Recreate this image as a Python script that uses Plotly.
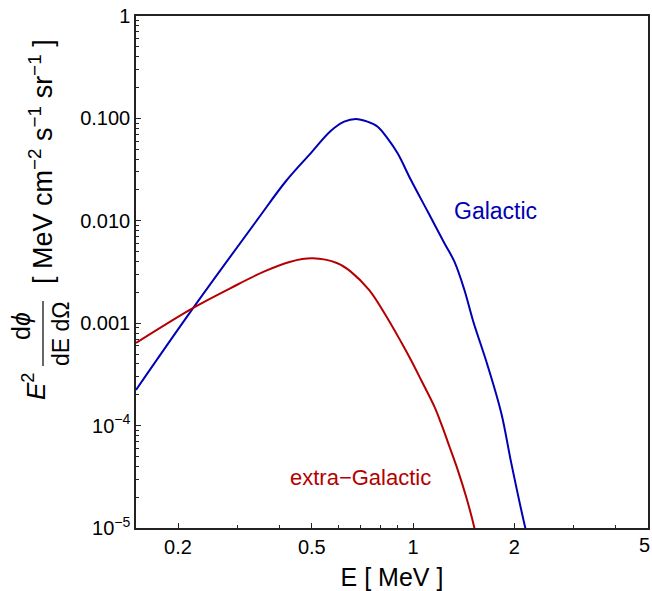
import plotly.graph_objects as go

# Galactic spectrum
gal_E = [0.150, 0.222, 0.344, 0.418, 0.496, 0.569, 0.624, 0.676, 0.732, 0.785, 0.840, 0.900,
         0.986, 1.106, 1.240, 1.328, 1.422, 1.507, 1.671, 1.831, 1.961, 2.160, 2.25]
gal_F = [2.23e-4, 1.41e-3, 1.02e-2, 2.42e-2, 4.56e-2, 7.53e-2, 9.29e-2, 9.87e-2, 9.29e-2, 8.30e-2, 6.39e-2, 4.56e-2,
         2.50e-2, 1.23e-2, 6.03e-3, 3.99e-3, 2.11e-3, 1.07e-3, 3.76e-4, 1.32e-4, 4.28e-5, 9.9e-6, 6e-6]

# extra-Galactic spectrum
xg_E = [0.150, 0.222, 0.286, 0.360, 0.432, 0.503, 0.596, 0.653, 0.740, 0.825,
        0.921, 0.986, 1.057, 1.158, 1.212, 1.284, 1.359, 1.439, 1.524, 1.57]
xg_F = [6.41e-4, 1.41e-3, 2.19e-3, 3.19e-3, 3.99e-3, 4.30e-3, 3.85e-3, 3.19e-3, 2.11e-3, 1.23e-3,
        6.59e-4, 4.37e-4, 2.79e-4, 1.53e-4, 1.05e-4, 6.22e-5, 3.68e-5, 2.02e-5, 9.9e-6, 6e-6]

x_ticks = [0.2, 0.5, 1, 2, 5]
x_ticklabels = ["0.2", "0.5", "1", "2", ""]
x_last_label = "5"
x_minor = [0.3, 0.4, 0.6, 0.7, 0.8, 0.9, 3, 4]
y_ticks = [1, 0.1, 0.01, 0.001, 1e-4, 1e-5]
y_ticklabels = ["1", "0.100", "0.010", "0.001", "10<sup>−4</sup>", "10<sup>−5</sup>"]
y_minor = [m * 10.0 ** d for d in range(-5, 0) for m in range(2, 10)]

BLUE = "#0000b4"
RED = "#b40000"
AX = "#222"
FONT = "Liberation Sans, Arial, sans-serif"

fig = go.Figure()
fig.add_trace(go.Scatter(x=gal_E, y=gal_F, mode="lines",
                         line=dict(color=BLUE, width=2, shape="spline", smoothing=1.0),
                         showlegend=False, hoverinfo="skip", cliponaxis=True))
fig.add_trace(go.Scatter(x=xg_E, y=xg_F, mode="lines",
                         line=dict(color=RED, width=2, shape="spline", smoothing=1.0),
                         showlegend=False, hoverinfo="skip", cliponaxis=True))

L, R, T, B = 136, 648, 16, 528          # plot area in pixels
W, H = 652, 591


def px(x):
    return (x - L) / (R - L)


def py(y):
    return (B - y) / (B - T)


fig.update_layout(
    width=W, height=H,
    margin=dict(l=L, r=W - R, t=T, b=H - B, pad=0),
    plot_bgcolor="white", paper_bgcolor="white",
    font=dict(family=FONT, size=20, color="black"),
    xaxis=dict(type="log", range=[-0.8239, 0.69897], tickvals=x_ticks, ticktext=x_ticklabels,
               ticks="inside", ticklen=5, tickwidth=1, tickcolor=AX, showgrid=False, zeroline=False,
               showline=True, linecolor=AX, linewidth=1.5, mirror=True, automargin=False,
               minor=dict(tickvals=x_minor, ticks="inside", ticklen=3, tickcolor=AX, showgrid=False),
               tickfont=dict(size=20), title=dict(text="E [ MeV ]", font=dict(size=25), standoff=12)),
    yaxis=dict(type="log", range=[-5, 0], tickvals=y_ticks, ticktext=y_ticklabels,
               ticks="inside", ticklen=5, tickwidth=1, tickcolor=AX, showgrid=False, zeroline=False,
               showline=True, linecolor=AX, linewidth=1.5, mirror=True, automargin=False,
               minor=dict(tickvals=y_minor, ticks="inside", ticklen=3, tickcolor=AX, showgrid=False),
               tickfont=dict(size=20)),
)

ann = [
    dict(text=x_last_label, x=px(644), y=py(545), font=dict(size=20)),
    dict(text="Galactic", x=px(495), y=py(211), font=dict(color=BLUE, size=23)),
    dict(text="extra−Galactic", x=px(360), y=py(477), font=dict(color=RED, size=22)),
    dict(text="<i>E</i><sup>2</sup>", x=px(34), y=py(387), textangle=-90, font=dict(size=26)),
    dict(text="d<i>ϕ</i>", x=px(21), y=py(326), textangle=-90, font=dict(size=25)),
    dict(text="dE dΩ", x=px(61), y=py(334), textangle=-90, font=dict(size=23)),
    dict(text="[ MeV cm<sup>−2</sup> s<sup>−1</sup> sr<sup>−1</sup> ]", x=px(41), y=py(162),
         textangle=-90, font=dict(size=27)),
]
for a in ann:
    fig.add_annotation(xref="paper", yref="paper", showarrow=False, xanchor="center", yanchor="middle", **a)

fig.add_shape(type="line", xref="paper", yref="paper", x0=px(43), x1=px(43), y0=py(301), y1=py(366),
              line=dict(color="black", width=1.2))

fig.write_html("out.html", config={"displayModeBar": False},
               post_script="document.body.style.margin='0';document.body.style.overflow='hidden';")
